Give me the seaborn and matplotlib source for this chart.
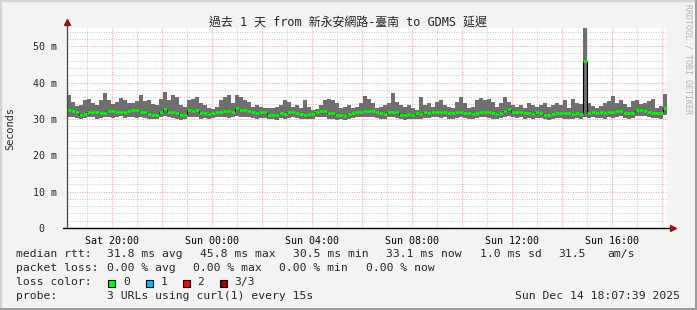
import numpy as np
import pandas as pd
import matplotlib
matplotlib.use("Agg")
import matplotlib.pyplot as plt
import seaborn as sns
from matplotlib.patches import Rectangle

# ---------------- data ----------------
title = "過去 1 天 from 新永安網路-臺南 to GDMS 延遲"
start_hour = 18.2          # hours since Sat 00:00 at left edge
bin_hours = 0.16           # width of each sample bin (hours)

smoke_top = [
    36.5, 34.7, 33.6, 33.8, 35.2, 35.6, 34.5, 33.8, 35.2, 37.0, 35.2, 34.1, 34.7, 35.8, 35.2, 34.5, 34.3, 34.9, 36.5, 34.9, 35.2, 34.0, 33.8, 35.4, 37.4,
    35.2, 36.5, 36.1, 33.8, 33.3, 35.2, 35.6, 36.1, 34.3, 33.8, 32.9, 32.7, 33.3, 35.2, 36.1, 36.5, 34.3, 36.5, 36.1, 35.2, 34.7, 33.3, 33.8, 33.3, 33.1,
    32.9, 32.9, 33.3, 33.8, 35.2, 34.7, 33.3, 33.8, 32.9, 35.2, 33.3, 32.4, 32.7, 33.8, 35.2, 35.6, 35.2, 34.3, 32.9, 33.3, 33.8, 32.9, 33.3, 34.3, 36.3,
    35.6, 34.3, 32.9, 33.3, 33.8, 34.3, 37.0, 34.7, 33.8, 33.3, 33.8, 32.9, 32.4, 36.1, 33.8, 34.3, 33.3, 34.7, 35.2, 33.8, 33.3, 32.9, 34.7, 36.1, 34.3,
    32.9, 33.3, 35.2, 35.8, 35.2, 35.6, 34.7, 33.3, 34.3, 36.1, 34.7, 33.8, 33.3, 33.8, 32.9, 34.3, 33.8, 33.3, 33.8, 34.3, 33.3, 33.8, 34.3, 33.8, 35.2,
    33.0, 35.5, 34.5, 34.0, 56.0, 34.5, 33.5, 33.0, 33.6, 34.5, 34.8, 36.4, 34.5, 35.2, 34.0, 33.2, 35.0, 35.2, 34.0, 34.5, 34.8, 35.6, 33.0, 33.5, 36.8,
]
smoke_bottom = [
    30.4, 30.6, 30.2, 30.0, 30.3, 30.5, 30.4, 30.1, 30.3, 30.6, 30.5, 30.2, 30.4, 30.7, 30.3, 30.5, 30.6, 30.2, 30.4, 30.3, 30.0, 29.9, 30.1, 30.5, 30.8,
    30.5, 30.2, 30.0, 29.8, 29.9, 30.6, 30.4, 30.5, 30.1, 30.2, 30.0, 30.3, 30.4, 30.5, 30.6, 30.3, 30.5, 30.8, 30.6, 30.4, 30.5, 30.2, 30.1, 30.3, 30.2,
    29.9, 30.0, 29.8, 30.2, 30.1, 30.3, 30.4, 30.2, 29.9, 30.0, 30.1, 29.9, 30.5, 30.6, 30.4, 30.1, 30.0, 29.8, 29.9, 29.7, 30.0, 30.2, 30.4, 30.5, 30.6,
    30.5, 30.6, 30.3, 30.0, 30.1, 30.4, 30.5, 30.3, 29.9, 29.8, 30.0, 29.9, 30.1, 30.0, 30.3, 30.2, 30.4, 30.5, 30.3, 30.4, 30.1, 30.0, 30.3, 30.4, 30.2,
    30.1, 30.0, 30.2, 30.4, 30.5, 30.3, 30.0, 30.1, 30.2, 30.6, 30.8, 30.4, 30.3, 30.5, 30.1, 30.2, 30.0, 30.3, 30.2, 29.9, 29.8, 30.0, 30.2, 30.3, 30.1,
    30.0, 29.9, 30.2, 30.1, 30.4, 30.3, 30.4, 30.2, 30.3, 30.1, 30.5, 30.3, 30.6, 30.7, 30.2, 30.1, 30.3, 30.8, 30.9, 30.7, 30.4, 30.2, 30.3, 30.1, 31.0,
]
median_rtt = [
    32.4, 32.2, 31.8, 31.2, 31.3, 32.0, 31.9, 31.8, 31.5, 31.6, 32.1, 32.2, 31.9, 32.0, 31.8, 32.2, 32.4, 32.5, 32.0, 31.9, 31.4, 31.0, 31.1, 32.0, 32.6,
    31.9, 32.0, 31.7, 31.2, 31.0, 32.4, 32.3, 32.5, 31.5, 31.6, 31.4, 31.5, 31.9, 32.0, 32.1, 32.2, 32.0, 32.9, 32.5, 32.4, 32.3, 31.8, 31.7, 31.9, 31.8,
    31.0, 31.1, 31.0, 31.5, 31.4, 31.8, 31.9, 31.7, 31.3, 31.2, 31.4, 31.3, 32.0, 32.2, 32.1, 31.5, 31.6, 31.0, 31.1, 30.9, 31.4, 31.5, 31.9, 32.0, 32.2,
    32.1, 32.2, 32.0, 31.5, 31.4, 31.9, 32.0, 31.8, 31.2, 31.1, 31.3, 31.2, 31.5, 31.4, 31.8, 31.7, 31.9, 32.0, 31.9, 32.0, 31.5, 31.6, 31.8, 31.9, 31.7,
    31.5, 31.4, 31.6, 31.9, 32.0, 31.9, 31.5, 31.4, 31.5, 32.3, 32.7, 32.0, 31.9, 32.0, 31.5, 31.6, 31.4, 31.8, 31.7, 31.2, 31.1, 31.3, 31.6, 31.7, 31.5,
    31.5, 31.3, 31.6, 31.4, 45.8, 31.7, 31.9, 31.6, 31.8, 31.5, 32.0, 31.8, 32.2, 32.3, 31.6, 31.5, 31.7, 32.4, 32.5, 32.3, 31.9, 31.6, 31.7, 31.5, 33.1,
]

xtick_hours = [20, 22, 24, 26, 28, 30, 32, 34, 36, 38, 40, 42]
xtick_labels = ["Sat 20:00", "", "Sun 00:00", "", "Sun 04:00", "", "Sun 08:00", "",
                "Sun 12:00", "", "Sun 16:00", ""]
x_minor_hours = [19, 21, 23, 25, 27, 29, 31, 33, 35, 37, 39, 41]
ytick_values = [0, 10, 20, 30, 40, 50]
ytick_labels = ["0  ", "10 m", "20 m", "30 m", "40 m", "50 m"]
y_minor_values = [2, 4, 6, 8, 12, 14, 16, 18, 22, 24, 26, 28, 32, 34, 36, 38,
                  42, 44, 46, 48, 52, 54]
y_max = 55

legend_rtt = [("median rtt:", 16), ("31.8 ms avg", 107), ("45.8 ms max", 200),
              ("30.5 ms min", 293), ("33.1 ms now", 386), ("1.0 ms sd", 480),
              ("31.5", 558), ("am/s", 607)]
legend_loss = [("packet loss:", 16), ("0.00 % avg", 107), ("0.00 % max", 193),
               ("0.00 % min", 279), ("0.00 % now", 366)]
loss_labels = ["0", "1", "2", "3/3"]
loss_colors = ["#00ff00", "#00b8ff", "#ff0000", "#a00000"]
probe_text = "3 URLs using curl(1) every 15s"
stamp_text = "Sun Dec 14 18:07:39 2025"

# ---------------- figure ----------------
W, H = 697, 310
sns.set_style("white")
plt.rcParams["font.family"] = ["DejaVu Sans Mono", "Noto Sans CJK TC"]

fig = plt.figure(figsize=(W / 100, H / 100), dpi=100)
fig.patch.set_facecolor("#f3f3f3")

def fx(x):
    return x / W

def fy(y):
    return 1 - y / H

# frame (3D look)
fig.add_artist(Rectangle((0, 0), 1, 1, transform=fig.transFigure, fill=False,
                         edgecolor="#d4d4d4", lw=2.5))
fig.add_artist(Rectangle((fx(0), fy(310)), fx(697), 2.2 / H, transform=fig.transFigure,
                         color="#9b9b9b", lw=0))
fig.add_artist(Rectangle((fx(694.8), fy(310)), 2.2 / W, 1, transform=fig.transFigure,
                         color="#9b9b9b", lw=0))

left, right, top, bottom = 67, 667, 28, 228
ax = fig.add_axes([fx(left), fy(bottom), fx(right - left), (bottom - top) / H])
ax.set_facecolor("white")

n = len(median_rtt)
edges = start_hour + bin_hours * np.arange(n + 1)
top_ext = np.array(smoke_top + [smoke_top[-1]])
bot_ext = np.array(smoke_bottom + [smoke_bottom[-1]])

# grid (drawn manually so colours are exact)
dot = (0, (1, 1.5))
for v in y_minor_values:
    ax.axhline(v, color="#c8c8c8", ls=dot, lw=0.7, zorder=0)
for h in x_minor_hours:
    ax.axvline(h, color="#c8c8c8", ls=dot, lw=0.7, zorder=0)
for v in ytick_values[1:]:
    ax.axhline(v, color="#ff9a9a", ls=dot, lw=0.7, zorder=1)
for h in xtick_hours:
    ax.axvline(h, color="#ff9a9a", ls=dot, lw=0.7, zorder=1)

ax.fill_between(edges, bot_ext, top_ext, step="post", color="#6f6f6f", lw=0, zorder=2)

df = pd.DataFrame({"hour": edges, "rtt": median_rtt + [median_rtt[-1]]})
sns.lineplot(data=df, x="hour", y="rtt", drawstyle="steps-post", color="black",
             lw=0.8, ax=ax, zorder=3)
ax.hlines(median_rtt, edges[:-1], edges[1:], colors="#00ff00", lw=1.8,
          capstyle="butt", zorder=4)
ax.set_xlabel("")
ax.set_ylabel("")

ax.set_xlim(edges[0], edges[-1])
ax.set_ylim(0, y_max)

ax.grid(False)
ax.set_xticks(xtick_hours)
ax.set_xticklabels(xtick_labels)
ax.set_yticks(ytick_values)
ax.set_yticklabels(ytick_labels)
ax.tick_params(axis="x", which="major", direction="out", length=3, width=0.7,
               color="#ff6060", labelsize=7.2, pad=3, labelcolor="black")
ax.tick_params(axis="y", which="both", length=0, labelsize=7.2, pad=7)
for s in ["top", "right", "left", "bottom"]:
    ax.spines[s].set_visible(False)

# axis lines with arrows
ax.plot([0, 0], [0, 1.025], transform=ax.transAxes, color="#444444", lw=0.9,
        clip_on=False, zorder=6)
ax.plot([-0.006, 1.008], [0, 0], transform=ax.transAxes, color="black", lw=1.0,
        clip_on=False, zorder=6)
ax.plot([0], [1.03], marker="^", ms=4.5, color="#8b1a1a", transform=ax.transAxes,
        clip_on=False, zorder=7)
ax.plot([1.01], [0], marker=">", ms=4.5, color="#8b1a1a", transform=ax.transAxes,
        clip_on=False, zorder=7)

# title and labels
fig.text(fx(348), fy(22), title, ha="center", va="center", fontsize=8.6)
fig.text(fx(10.5), fy(129), "Seconds", rotation=90, ha="center", va="center",
         fontsize=7.4)
fig.text(fx(688), fy(4), "RRDTOOL / TOBI OETIKER", rotation=270, ha="center",
         va="top", fontsize=6.0, color="#b2b2b2")

fs = 8.2
for txt, x in legend_rtt:
    fig.text(fx(x), fy(254), txt, ha="left", va="center", fontsize=fs)
for txt, x in legend_loss:
    fig.text(fx(x), fy(268), txt, ha="left", va="center", fontsize=fs)
fig.text(fx(16), fy(282), "loss color:", ha="left", va="center", fontsize=fs)
box_x = [108, 145.5, 182.5, 219.5]
for bx, lbl, col in zip(box_x, loss_labels, loss_colors):
    fig.add_artist(Rectangle((fx(bx), fy(286.5)), 7 / W, 7 / H,
                             transform=fig.transFigure, facecolor=col,
                             edgecolor="black", lw=0.8))
    fig.text(fx(bx + 15), fy(282), lbl, ha="left", va="center", fontsize=fs)
fig.text(fx(16), fy(296), "probe:", ha="left", va="center", fontsize=fs)
fig.text(fx(107), fy(296), probe_text, ha="left", va="center", fontsize=fs)
fig.text(fx(680), fy(296), stamp_text, ha="right", va="center", fontsize=fs)

fig.savefig("out.png", dpi=100, facecolor=fig.get_facecolor())
